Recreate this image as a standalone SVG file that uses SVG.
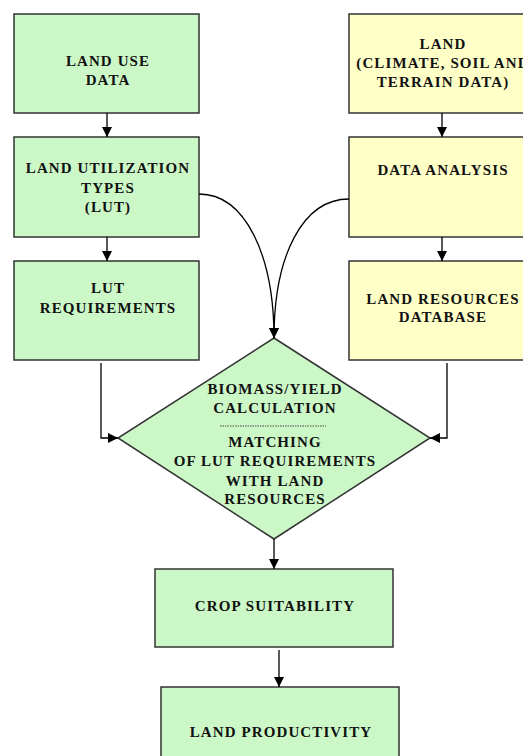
<svg xmlns="http://www.w3.org/2000/svg" width="523" height="756" viewBox="0 0 523 756">
<defs>
<marker id="ah" viewBox="0 0 10 10" refX="10" refY="5" markerWidth="10" markerHeight="10" markerUnits="userSpaceOnUse" orient="auto">
<path d="M0,0 L10,5 L0,10 z" fill="#000"/>
</marker>
</defs>
<style>
.g{fill:#ccf8c8;stroke:#333;stroke-width:1.5}
.y{fill:#ffffc8;stroke:#333;stroke-width:1.5}
.t{font-family:"Liberation Serif","Times New Roman",serif;font-weight:bold;font-size:15px;letter-spacing:1.1px;fill:#111;text-anchor:middle}
.c{fill:none;stroke:#000;stroke-width:1.3;marker-end:url(#ah)}
</style>
<rect width="523" height="756" fill="#fff"/>
<g id="land-use-data">
<rect class="g" x="14" y="14" width="185" height="99"/>
<text class="t" x="108" y="66">LAND USE</text>
<text class="t" x="108" y="85">DATA</text>
</g>
<g id="lut">
<rect class="g" x="14" y="137" width="185" height="100"/>
<text class="t" x="108" y="173">LAND UTILIZATION</text>
<text class="t" x="108" y="193">TYPES</text>
<text class="t" x="108" y="212">(LUT)</text>
</g>
<g id="lut-req">
<rect class="g" x="14" y="261" width="185" height="99"/>
<text class="t" x="108" y="293">LUT</text>
<text class="t" x="108" y="313">REQUIREMENTS</text>
</g>
<g id="land">
<rect class="y" x="349" y="14" width="190" height="99"/>
<text class="t" x="443" y="49">LAND</text>
<text class="t" x="443" y="68">(CLIMATE, SOIL AND</text>
<text class="t" x="443" y="87">TERRAIN DATA)</text>
</g>
<g id="data-analysis">
<rect class="y" x="349" y="137" width="190" height="100"/>
<text class="t" x="443" y="175">DATA ANALYSIS</text>
</g>
<g id="land-resources">
<rect class="y" x="349" y="261" width="190" height="99"/>
<text class="t" x="443" y="304">LAND RESOURCES</text>
<text class="t" x="443" y="322">DATABASE</text>
</g>
<g id="matching">
<polygon class="g" points="274,338 430,438 274,539 118,438"/>
<text class="t" x="275" y="394">BIOMASS/YIELD</text>
<text class="t" x="275" y="413">CALCULATION</text>
<line x1="220" y1="426" x2="326" y2="426" stroke="#222" stroke-width="0.8" stroke-dasharray="1.5,1"/>
<text class="t" x="275" y="447">MATCHING</text>
<text class="t" x="275" y="466">OF LUT REQUIREMENTS</text>
<text class="t" x="275" y="486">WITH LAND</text>
<text class="t" x="275" y="504">RESOURCES</text>
</g>
<g id="crop-suitability">
<rect class="g" x="155" y="569" width="238" height="78"/>
<text class="t" x="275" y="611">CROP SUITABILITY</text>
</g>
<g id="land-productivity">
<rect class="g" x="161" y="687" width="238" height="80"/>
<text class="t" x="281" y="737">LAND PRODUCTIVITY</text>
</g>
<g id="connectors">
<line class="c" x1="107" y1="113" x2="107" y2="137"/>
<line class="c" x1="107" y1="237" x2="107" y2="261"/>
<line class="c" x1="442" y1="113" x2="442" y2="137"/>
<line class="c" x1="442" y1="237" x2="442" y2="261"/>
<path class="c" d="M199,194 C245,194 274,255 274,338"/>
<path class="c" d="M349,199 C303,199 274,255 274,338"/>
<path class="c" d="M101,363 L101,438 L118,438"/>
<path class="c" d="M447,363 L447,438 L430,438"/>
<line class="c" x1="274" y1="539" x2="274" y2="569"/>
<line class="c" x1="279" y1="650" x2="279" y2="687"/>
</g>
</svg>
